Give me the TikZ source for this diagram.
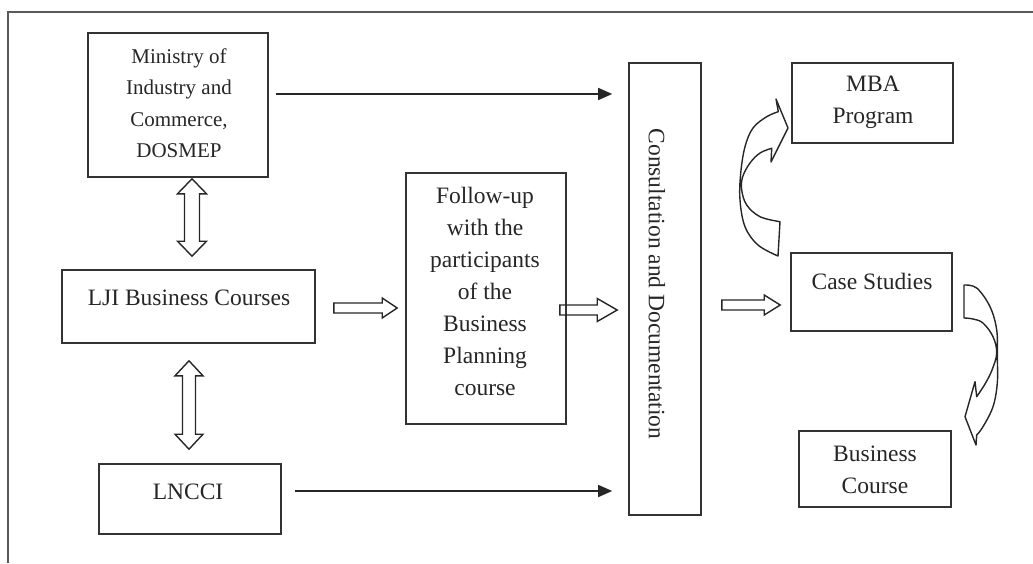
\documentclass[tikz,border=0pt]{standalone}
\usepackage{fontspec}
\setmainfont{Liberation Serif}
\usetikzlibrary{arrows.meta,calc}
\tikzset{
 box/.style={draw=black!80, line width=1.6pt, inner sep=0pt},
 txt/.style={inner sep=0pt, align=center, font=\fontsize{23.5}{32}\selectfont, text=black!85},
 smalltxt/.style={txt, font=\fontsize{21}{31.5}\selectfont},
 arr/.style={line width=1.4pt, draw=black!85, -{Triangle[length=14pt,width=12pt]}},
 blk/.style={line width=1.4pt, draw=black!85, line join=miter},
 frame/.style={line width=1.5pt, draw=black!65},
 blockR/.style args={#1/#2/#3}{to path={let \p1=(\tikztostart), \p2=(\tikztotarget) in ({\x1},{\y1+#1}) -- ({\x2-#3},{\y1+#1}) -- ({\x2-#3},{\y1+#2}) -- ({\x2},{\y1}) -- ({\x2-#3},{\y1-#2}) -- ({\x2-#3},{\y1-#1}) -- ({\x1},{\y1-#1}) -- cycle}},
 dblockV/.style args={#1/#2/#3}{to path={let \p1=(\tikztostart), \p2=(\tikztotarget) in ({\x1},{\y1}) -- ({\x1+#2},{\y1-#3}) -- ({\x1+#1},{\y1-#3}) -- ({\x1+#1},{\y2+#3}) -- ({\x1+#2},{\y2+#3}) -- ({\x1},{\y2}) -- ({\x1-#2},{\y2+#3}) -- ({\x1-#1},{\y2+#3}) -- ({\x1-#1},{\y1-#3}) -- ({\x1-#2},{\y1-#3}) -- cycle}},
}
\begin{document}
\begin{tikzpicture}[x=1pt,y=-1pt]
\useasboundingbox (0,0) rectangle (1033,563);
% frame
\draw[frame] (8,563) -- (8,12) -- (1033,12);

% boxes
\node[box, minimum width=180pt, minimum height=144pt] (ministry) at (178,105) {};
\node[box, minimum width=253pt, minimum height=73pt] (lji) at (188.5,306.5) {};
\node[box, minimum width=182pt, minimum height=70pt] (lncci) at (190,499) {};
\node[box, minimum width=160pt, minimum height=251pt] (follow) at (486,298.5) {};
\node[box, minimum width=72pt, minimum height=452pt] (consult) at (665,289) {};
\node[box, minimum width=161pt, minimum height=80pt] (mba) at (872.5,103) {};
\node[box, minimum width=161pt, minimum height=78pt] (case) at (871.5,292) {};
\node[box, minimum width=152pt, minimum height=76pt] (bcourse) at (875,469) {};

% texts
\node[smalltxt] (ministryt) at (179,103) {Ministry of\\Industry and\\Commerce,\\DOSMEP};
\node[txt] (ljit) at (189,298) {LJI Business Courses};
\node[txt] (lnccit) at (188,492) {LNCCI};
\node[txt] (followt) at (485,291) {Follow-up\\with the\\participants\\of the\\Business\\Planning\\course};
\node[txt, rotate=-90] (consultt) at (657,284) {Consultation and Documentation};
\node[txt] (mbat) at (873,102) {MBA\\Program};
\node[txt] (caset) at (872,281) {Case Studies};
\node[txt] (bcourset) at (875,470) {Business\\Course};

% solid arrows
\coordinate (m1) at ($(ministry.east)+(7,-11)$);
\draw[arr, shorten >=16pt] (m1) -- (m1 -| consult.west);
\coordinate (l1) at ($(lncci.east)+(13,-8)$);
\draw[arr, shorten >=16pt] (l1) -- (l1 -| consult.west);

% block arrows
\draw[blk] ($(ministry.south)+(14,1)$) to[dblockV=7.5pt/14.5pt/15pt] ($(lji.north)+(0,-13)$);
\draw[blk] ($(lji.south)+(0.5,17)$) to[dblockV=6.5pt/14pt/15pt] ($(lncci.north)+(0,-14)$);
\draw[blk] ($(lji.east)+(18,1.5)$) to[blockR=5pt/10pt/15pt] ($(follow.west)+(-8,0)$);
\draw[blk] ($(follow.east)+(-7,11.5)$) to[blockR=5pt/11.5pt/20pt] ($(consult.west)+(-11,0)$);
\draw[blk] ($(consult.east)+(20,16)$) to[blockR=5pt/10pt/16pt] ($(case.west)+(-10,0)$);

% curved arrow: Case Studies -> MBA Program
\draw[blk, line join=round] plot[smooth, tension=0.6] coordinates {(778,256) (758,245) (745,226.7) (740,200) (740.7,173.3) (745,146.7) (753,128) (766.7,116.7) (778.3,111.7)}
  -- (776,99) -- (788,128) -- (771,162) -- (771.7,148.3)
  -- plot[smooth, tension=0.6] coordinates {(771.7,148.3) (760,153) (750,163) (742.7,176.7) (741.7,190) (746.7,205) (760,216.7) (780,221.7)}
  -- cycle;

% curved arrow: Case Studies -> Business Course
\draw[blk, line join=round] plot[smooth, tension=0.6] coordinates {(964,285) (976.7,288) (990,306.7) (996.7,330) (997.3,356.7) (997.3,383) (993,406.7) (983,426.7) (976.7,435)}
  -- (976,445) -- (965,416.7) -- (975,381.7) -- (976.7,396.7)
  -- plot[smooth, tension=0.6] coordinates {(976.7,396.7) (985,384) (992,370) (996.7,353) (993,336.7) (983,323) (973,319) (964,318)}
  -- cycle;
\end{tikzpicture}
\end{document}
